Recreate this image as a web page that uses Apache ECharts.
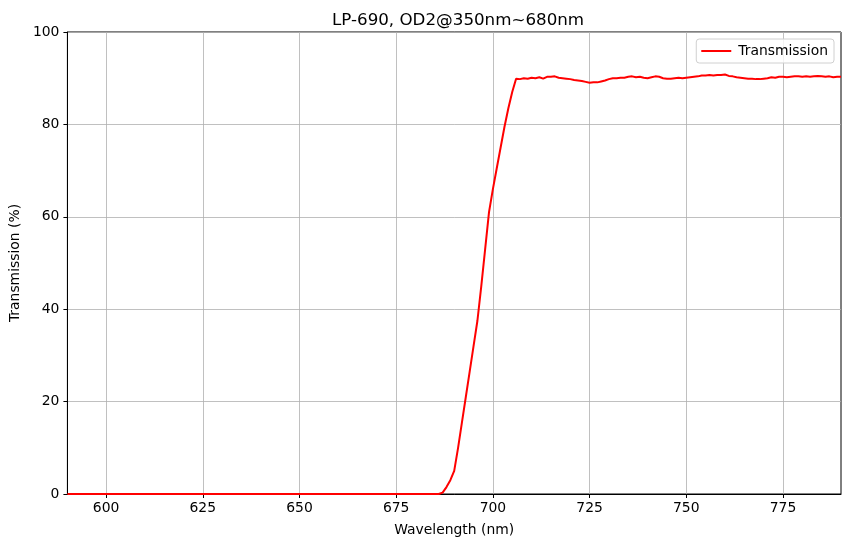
<!DOCTYPE html>
<html><head><meta charset="utf-8">
<script src="https://cdn.jsdelivr.net/npm/echarts@6/dist/echarts.min.js"></script>
<style>html,body{margin:0;padding:0;background:#fff}#c{width:850px;height:547px}</style>
</head><body><div id="c"></div>
<script>
const wavelengths = [590,600,610,620,630,640,650,660,670,680,686,687,688,689,690,691,692,693,694,695,696,697,698,699,700,701,702,703,704,705,
706,707,708,709,710,711,712,713,714,715,716,717,718,719,720,721,722,723,724,725,726,727,728,729,730,731,732,733,734,735,736,737,738,739,740,
741,742,743,744,745,746,747,748,749,750,751,752,753,754,755,756,757,758,759,760,761,762,763,764,765,766,767,768,769,770,
771,772,773,774,775,776,777,778,779,780,781,782,783,784,785,786,787,788,789,790];
const transmission = [0,0,0,0,0,0,0,0,0,0,0,0.3,1.5,3.0,5.0,10,15.5,21,26.5,32,37.5,45,53,61,66,70.5,75,79.5,83.5,87,
89.9,89.8,90.0,89.9,90.1,90.0,90.2,89.9,90.3,90.3,90.4,90.1,90.0,89.9,89.8,89.6,89.5,89.4,89.2,89.0,89.1,89.1,89.3,89.5,89.8,90.0,90.0,90.1,90.1,90.3,90.4,90.2,90.3,90.1,90.0,
90.2,90.4,90.3,90.0,89.9,89.9,90.0,90.1,90.0,90.1,90.2,90.3,90.4,90.6,90.6,90.7,90.6,90.7,90.7,90.8,90.5,90.4,90.2,90.1,90.0,89.9,89.9,89.8,89.8,89.9,
90.0,90.2,90.1,90.3,90.3,90.2,90.3,90.4,90.4,90.3,90.4,90.3,90.4,90.5,90.4,90.3,90.4,90.2,90.3,90.3];
const xTicks = [600,625,650,675,700,725,750,775];
const yTicks = [0,20,40,60,80,100];
const titleText = 'LP-690, OD2@350nm~680nm';
const seriesName = 'Transmission';
const xName = 'Wavelength (nm)';
const yName = 'Transmission (%)';

const font = 'DejaVu Sans';
const fs = 13.9;
const chart = echarts.init(document.getElementById('c'), null, {renderer:'canvas'});
chart.setOption({
  animation:false,
  backgroundColor:'#fff',
  title:{text:titleText,left:327,top:7,textStyle:{fontFamily:font,fontSize:16.7,fontWeight:'normal',color:'#000'}},
  grid:{left:66,right:9,top:32,bottom:53,show:true,borderColor:'#000',borderWidth:1,backgroundColor:'transparent'},
  legend:{data:[seriesName],right:16,top:39,icon:'rect',itemWidth:30,itemHeight:2,padding:[5,6,5,5],itemGap:8,
    borderColor:'#d0d0d0',borderWidth:1,borderRadius:3,backgroundColor:'rgba(255,255,255,0.8)',
    textStyle:{fontFamily:font,fontSize:fs,color:'#000',padding:[0,0,0,2]}},
  xAxis:{type:'value',min:590,max:790,
    name:xName,nameLocation:'middle',nameGap:29,nameTextStyle:{fontFamily:font,fontSize:fs,color:'#000'},
    axisLine:{show:true,lineStyle:{color:'#000',width:1}},
    axisTick:{show:true,length:4,lineStyle:{color:'#000'},customValues:xTicks},
    axisLabel:{fontFamily:font,fontSize:fs,color:'#000',margin:7,customValues:xTicks},
    splitLine:{show:true,lineStyle:{color:'#b0b0b0',width:0.8}},
    interval:25},
  yAxis:{type:'value',min:0,max:100,interval:20,
    name:yName,nameLocation:'middle',nameGap:44,nameTextStyle:{fontFamily:font,fontSize:fs,color:'#000'},
    axisLine:{show:true,lineStyle:{color:'#000',width:1}},
    axisTick:{show:true,length:4,lineStyle:{color:'#000'}},
    axisLabel:{fontFamily:font,fontSize:fs,color:'#000',margin:8},
    splitLine:{show:true,lineStyle:{color:'#b0b0b0',width:0.8}}},
  series:[{name:seriesName,type:'line',showSymbol:false,symbol:'none',
    data:wavelengths.map((w,i)=>[w,transmission[i]]),
    lineStyle:{color:'#ff0000',width:2},itemStyle:{color:'#ff0000'},clip:true}]
});
</script></body></html>
